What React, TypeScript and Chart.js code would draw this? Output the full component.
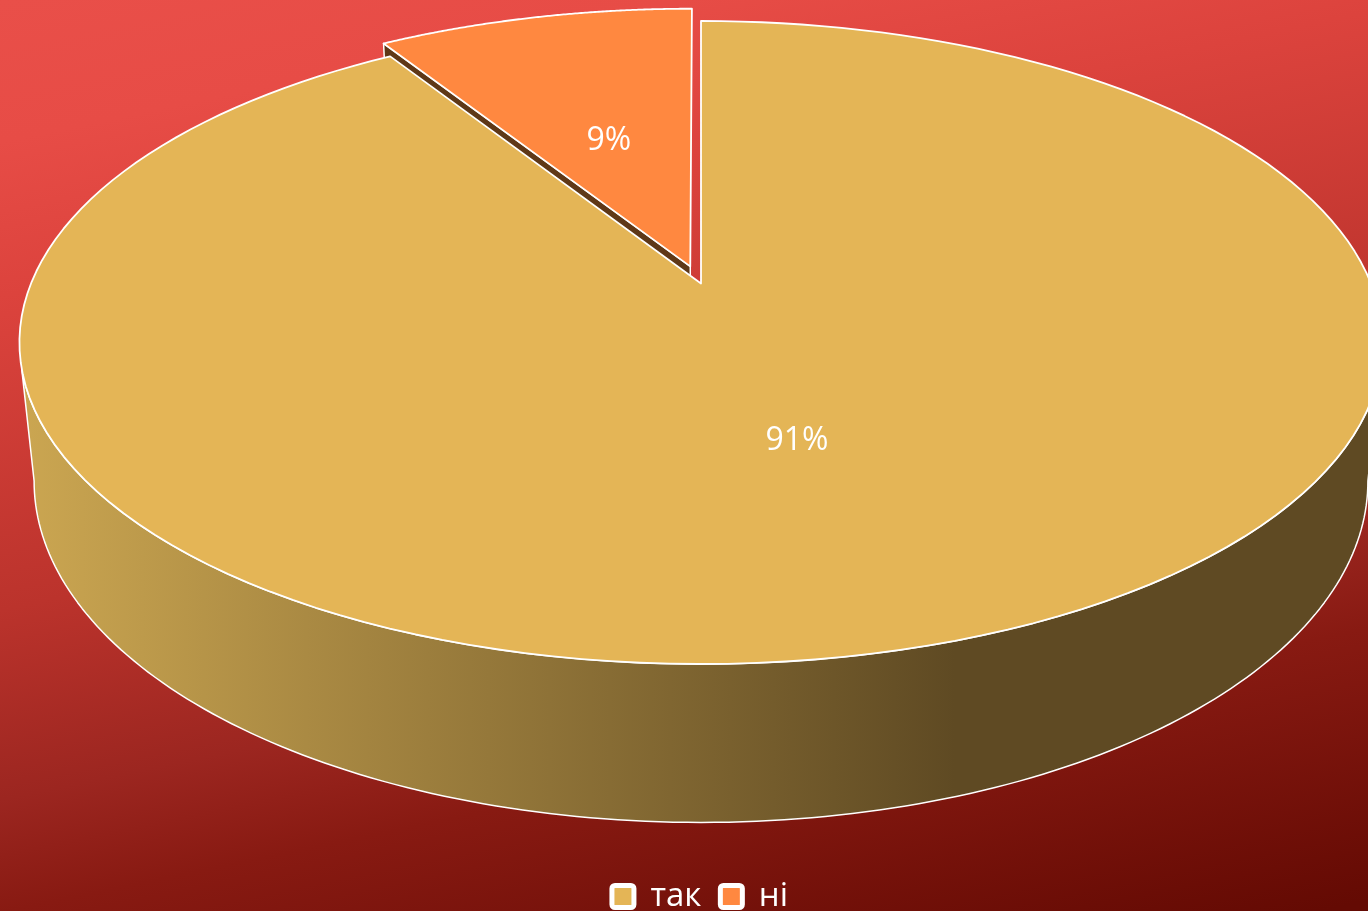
import React, { useEffect, useRef } from "react";
import { Chart, registerables } from "chart.js";

Chart.register(...registerables);

const categories = ["так", "ні"];
const shares = [91, 9];
const sliceColors = ["#e4b556", "#ff8840"];
const wallColors = ["#5f4a23", "#5f3817"];
const explode = [0, 0.058];

const FONT = '"Open Sans", sans-serif';
const TOP = { x0: 701, y0: 283.5, sx: 670, sy: 310.7, k: -0.1835 };
const BOTTOM = { x0: 701, y0: 420, sx: 656, sy: 330, k: -0.18 };
const rad = (d: number) => (d * Math.PI) / 180;

type Plane = typeof TOP;
const project = (p: Plane, u: number, v: number) => {
  const w = 1 + p.k * v;
  return [p.x0 + (p.sx * u) / w, p.y0 + (p.sy * v) / w];
};

function rim(ctx: CanvasRenderingContext2D, p: Plane, a0: number, a1: number, du = 0, dv = 0, move = false) {
  const n = 160;
  for (let i = 0; i <= n; i++) {
    const a = a0 + ((a1 - a0) * i) / n;
    const [x, y] = project(p, du + Math.cos(a), dv + Math.sin(a));
    if (i === 0 && move) ctx.moveTo(x, y);
    else ctx.lineTo(x, y);
  }
}

const pie3d = {
  id: "pie3d",
  beforeDraw(chart: any) {
    const { ctx, width, height } = chart;
    const g = ctx.createLinearGradient(0, 0, 236, 1136);
    g.addColorStop(0, "#e94f49");
    g.addColorStop(0.12, "#e74c46");
    g.addColorStop(0.25, "#dc433d");
    g.addColorStop(0.515, "#bb332c");
    g.addColorStop(0.675, "#9c2620");
    g.addColorStop(0.77, "#881a12");
    g.addColorStop(1, "#640a03");
    ctx.fillStyle = g;
    ctx.fillRect(0, 0, width, height);
  },
  afterLayout(chart: any) {
    const down = 12;
    const across = 16;
    chart.legend.top += down;
    chart.legend.bottom += down;
    chart.legend.left += across;
    chart.legend.right += across;
  },
  beforeDatasetDraw(chart: any, args: any) {
    const { ctx } = chart;
    const arcs = args.meta.data;
    const offsets = arcs.map((arc: any, i: number) => {
      const mid = (arc.startAngle + arc.endAngle) / 2;
      return [Math.cos(mid) * explode[i], Math.sin(mid) * explode[i]];
    });
    ctx.save();
    ctx.lineJoin = "round";
    ctx.strokeStyle = "#ffffff";

    // outer wall of the large slice
    const grad = ctx.createLinearGradient(22, 0, 955, 0);
    grad.addColorStop(0, "#cba651");
    grad.addColorStop(1, wallColors[0]);
    ctx.beginPath();
    rim(ctx, TOP, rad(15.2), rad(164.8), 0, 0, true);
    rim(ctx, BOTTOM, rad(169.7), rad(10.3));
    ctx.closePath();
    ctx.fillStyle = grad;
    ctx.fill();
    ctx.lineWidth = 1.5;
    ctx.stroke();

    // inner wall of the pulled-out slice
    const small = arcs[1];
    const [du, dv] = offsets[1];
    const c = project(TOP, du + Math.cos(small.startAngle), dv + Math.sin(small.startAngle));
    const cl = project(BOTTOM, du + Math.cos(small.startAngle), dv + Math.sin(small.startAngle));
    const ap = project(TOP, du, dv);
    const apl = project(BOTTOM, du, dv);
    ctx.beginPath();
    ctx.moveTo(c[0], c[1]);
    ctx.lineTo(ap[0], ap[1]);
    ctx.lineTo(apl[0], apl[1]);
    ctx.lineTo(cl[0], cl[1]);
    ctx.closePath();
    ctx.fillStyle = wallColors[1];
    ctx.fill();
    ctx.stroke();

    // top faces
    arcs.forEach((arc: any, i: number) => {
      const [ou, ov] = offsets[i];
      const a = project(TOP, ou, ov);
      ctx.beginPath();
      ctx.moveTo(a[0], a[1]);
      rim(ctx, TOP, arc.startAngle, arc.endAngle, ou, ov);
      ctx.closePath();
      ctx.fillStyle = sliceColors[i];
      ctx.fill();
      ctx.lineWidth = 1.8;
      ctx.stroke();
    });

    // value labels
    const total = shares.reduce((s, v) => s + v, 0);
    ctx.fillStyle = "#ffffff";
    ctx.font = `32px ${FONT}`;
    ctx.textAlign = "center";
    ctx.textBaseline = "middle";
    arcs.forEach((arc: any, i: number) => {
      const mid = (arc.startAngle + arc.endAngle) / 2;
      const [ou, ov] = offsets[i];
      const p = project(TOP, ou + 0.475 * Math.cos(mid), ov + 0.475 * Math.sin(mid));
      ctx.fillText(`${Math.round((shares[i] / total) * 100)}%`, p[0] - 1, p[1] + 3);
    });
    ctx.restore();
    return false;
  },
};

export default function App() {
  const ref = useRef<HTMLCanvasElement>(null);
  useEffect(() => {
    document.body.style.margin = "0";
    document.body.style.overflow = "hidden";
    const base = (Chart as any).overrides.doughnut.plugins.legend.labels.generateLabels;
    const chart = new Chart(ref.current!, {
      type: "pie",
      data: {
        labels: categories,
        datasets: [
          {
            data: shares,
            backgroundColor: sliceColors,
            borderColor: "#ffffff",
            borderWidth: 5,
          },
        ],
      },
      options: {
        responsive: false,
        animation: false,
        events: [],
        plugins: {
          tooltip: { enabled: false },
          legend: {
            position: "bottom",
            labels: {
              color: "#ffffff",
              font: { family: FONT, size: 33 },
              boxWidth: 22,
              boxHeight: 22,
              padding: 19,
              useBorderRadius: true,
              borderRadius: 3,
              generateLabels: (c: any) =>
                base(c).map((it: any) => ({
                  ...it,
                  borderRadius: 3,
                  lineJoin: "round",
                  fontColor: "#ffffff",
                })),
            },
          },
        },
      },
      plugins: [pie3d as any],
    } as any);
    return () => chart.destroy();
  }, []);
  return <canvas ref={ref} width={1368} height={911} style={{ display: "block" }} />;
}
